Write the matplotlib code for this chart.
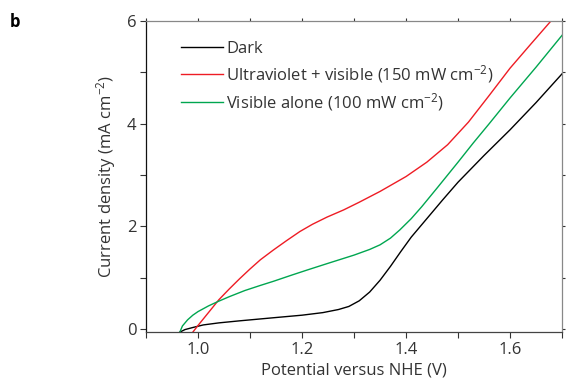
"""Current density vs potential (panel b)"""

import matplotlib.pyplot as plt
from matplotlib.ticker import MultipleLocator

plt.rcParams['font.family'] = ['Open Sans', 'DejaVu Sans']
plt.rcParams['mathtext.fontset'] = 'custom'
plt.rcParams['mathtext.rm'] = 'Open Sans'
plt.rcParams['mathtext.it'] = 'Open Sans:italic'
plt.rcParams['mathtext.bf'] = 'Open Sans:bold'

# values
dark_v = [0.965, 0.975, 0.99, 1.01, 1.04, 1.08, 1.145, 1.20, 1.24, 1.27, 1.29, 1.31, 1.33,
          1.35, 1.37, 1.39, 1.41, 1.44, 1.47, 1.50, 1.55, 1.60, 1.65, 1.70]
dark_j = [-0.06, -0.01, 0.03, 0.08, 0.12, 0.16, 0.22, 0.27, 0.32, 0.38, 0.44, 0.55, 0.72,
          0.95, 1.22, 1.51, 1.79, 2.15, 2.51, 2.86, 3.38, 3.88, 4.41, 4.97]

uv_v = [0.99, 1.00, 1.02, 1.04, 1.06, 1.08, 1.10, 1.12, 1.145, 1.17, 1.196, 1.22, 1.248,
        1.28, 1.31, 1.35, 1.40, 1.44, 1.48, 1.52, 1.56, 1.60, 1.64, 1.677, 1.70]
uv_j = [-0.06, 0.07, 0.32, 0.57, 0.78, 0.98, 1.17, 1.35, 1.54, 1.72, 1.90, 2.04, 2.18,
        2.32, 2.47, 2.68, 2.97, 3.25, 3.59, 4.03, 4.55, 5.08, 5.55, 5.98, 6.22]

vis_v = [0.965, 0.97, 0.98, 0.99, 1.00, 1.02, 1.037, 1.06, 1.09, 1.12, 1.145, 1.18, 1.21,
         1.25, 1.30, 1.33, 1.35, 1.37, 1.388, 1.41, 1.43, 1.46, 1.50, 1.529, 1.56, 1.60,
         1.65, 1.70]
vis_j = [-0.06, 0.06, 0.18, 0.27, 0.34, 0.45, 0.53, 0.63, 0.75, 0.85, 0.93, 1.05, 1.15,
         1.28, 1.44, 1.55, 1.64, 1.77, 1.93, 2.15, 2.38, 2.75, 3.25, 3.62, 4.00, 4.50,
         5.10, 5.72]

labels = ['Dark',
          'Ultraviolet + visible (150 mW cm$^{\u22122}$)',
          'Visible alone (100 mW cm$^{\u22122}$)']
colors = ['#000000', '#ee1c24', '#00a650']
txt = '#333333'

fig = plt.figure(figsize=(5.66, 3.88), dpi=100)
ax = fig.add_axes([0.258, 0.144, 0.735, 0.802])

for v, j, lab, c in zip([dark_v, uv_v, vis_v], [dark_j, uv_j, vis_j], labels, colors):
    ax.plot(v, j, color=c, lw=1.0, label=lab, solid_joinstyle='round')

ax.set_xlim(0.9, 1.7)
ax.set_ylim(-0.06, 6)
ax.set_xticks([1.0, 1.2, 1.4, 1.6])
ax.set_xticklabels(['1.0', '1.2', '1.4', '1.6'])
ax.xaxis.set_minor_locator(MultipleLocator(0.1))
ax.yaxis.set_major_locator(MultipleLocator(2))
ax.yaxis.set_minor_locator(MultipleLocator(1))

ax.tick_params(which='both', direction='out', length=4, width=0.8, color=txt,
               labelsize=12, labelcolor=txt, pad=3)
ax.tick_params(which='both', top=True, right=True)
for t in ax.xaxis.get_major_ticks() + ax.xaxis.get_minor_ticks():
    t.tick2line.set_markersize(2)
    t.tick2line.set_color('#888888')
for t in ax.yaxis.get_major_ticks() + ax.yaxis.get_minor_ticks():
    t.tick2line.set_markersize(2)
    t.tick2line.set_color('#888888')

for s in ax.spines.values():
    s.set_linewidth(0.9)
ax.spines['left'].set_color('#111111')
ax.spines['bottom'].set_color('#444444')
ax.spines['top'].set_color('#888888')
ax.spines['right'].set_color('#888888')

ax.set_xlabel('Potential versus NHE (V)', fontsize=12, color=txt, labelpad=3)
ax.set_ylabel('Current density (mA cm$^{\u22122}$)', fontsize=12, color=txt, labelpad=6)

ax.legend(loc='upper left', bbox_to_anchor=(0.048, 0.985), frameon=False, fontsize=12,
          handlelength=2.5, handletextpad=0.2, labelspacing=0.38, labelcolor=txt)

fig.text(0.018, 0.93, 'b', fontsize=12, fontweight='bold')

plt.savefig('out.png', dpi=100)
